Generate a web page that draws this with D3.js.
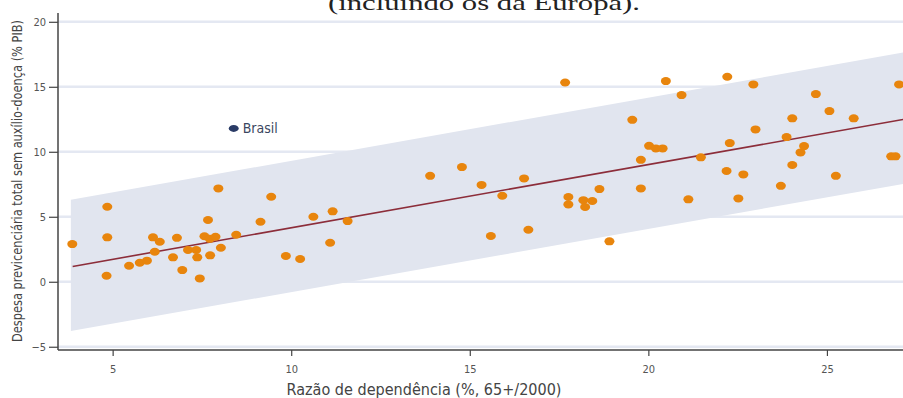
<!DOCTYPE html>
<html lang="pt">
<head>
<meta charset="utf-8">
<script src="https://cdn.jsdelivr.net/npm/d3@7"></script>
<style>
  html, body { margin: 0; padding: 0; background: #fff; }
  svg { display: block; }
  .cond { font-family: 'Liberation Sans Narrow', 'DejaVu Sans Condensed', 'Roboto', sans-serif; font-stretch: condensed; }
</style>
</head>
<body>
<svg id="chart" width="903" height="398"></svg>
<script>
// Razão de dependência (x) e despesa previdenciária (y) por país
const xValues = [3.87, 4.85, 4.85, 4.83, 5.46, 5.76, 5.96, 6.13, 6.32, 6.18,
  6.69, 6.80, 6.95, 7.11, 7.34, 7.37, 7.44, 7.57, 7.67, 7.72,
  7.88, 7.73, 8.03, 7.96, 8.46, 9.14, 9.44, 9.85, 10.25, 10.62,
  11.16, 11.09, 11.58, 13.89, 14.78, 15.33, 15.91, 16.52, 15.59, 16.64,
  17.67, 17.76, 17.76, 18.18, 18.23, 18.43, 18.63, 18.91, 19.55, 19.79,
  19.79, 20.02, 20.21, 20.40, 20.49, 20.93, 21.12, 21.47, 22.21, 22.94,
  22.28, 22.19, 22.66, 22.52, 23.00, 23.71, 23.87, 24.03, 24.03, 24.26,
  24.36, 24.69, 25.07, 25.25, 25.75, 26.80, 26.92, 27.02];
const yValues = [2.90, 5.77, 3.42, 0.46, 1.23, 1.46, 1.62, 3.42, 3.08, 2.31,
  1.88, 3.38, 0.90, 2.44, 2.44, 1.88, 0.26, 3.50, 4.75, 3.30,
  3.46, 2.03, 2.62, 7.18, 3.62, 4.62, 6.54, 1.98, 1.75, 5.00,
  5.42, 3.00, 4.67, 8.15, 8.82, 7.45, 6.62, 7.95, 3.52, 4.00,
  15.33, 6.52, 5.95, 6.28, 5.75, 6.21, 7.13, 3.11, 12.46, 9.38,
  7.18, 10.46, 10.26, 10.26, 15.44, 14.36, 6.34, 9.57, 15.77, 15.18,
  10.67, 8.52, 8.26, 6.41, 11.72, 7.38, 11.13, 12.57, 8.98, 9.95,
  10.44, 14.44, 13.13, 8.15, 12.57, 9.65, 9.65, 15.18];

// Ponto destacado
const highlightLabel = ["Brasil"];
const highlightX = [8.39];
const highlightY = [11.8];

// Reta ajustada e faixa em torno dela
const fitIntercept = -0.705;
const fitSlope = 0.486;
const bandUpper = 5.15;
const bandLower = -4.95;
const bandStart = 3.83;
const lineStart = 3.88;

// Eixos
const xDomain = [3.47, 27.13];
const yDomain = [-5.25, 20.6];
const xTicks = [5, 10, 15, 20, 25];
const yTicks = [-5, 0, 5, 10, 15, 20];

const titleText = "(incluindo os da Europa).";
const xTitle = "Razão de dependência (%, 65+/2000)";
const yTitle = "Despesa previcenciária total sem auxílio-doença (% PIB)";

const svg = d3.select("#chart");
const plotLeft = 58, plotRight = 903, plotTop = 14, plotBottom = 350;

const x = d3.scaleLinear().domain(xDomain).range([plotLeft, plotRight]);
const y = d3.scaleLinear().domain(yDomain).range([plotBottom, plotTop]);

svg.append("defs").append("clipPath").attr("id", "plot")
  .append("rect").attr("x", plotLeft).attr("y", plotTop - 10)
  .attr("width", plotRight - plotLeft).attr("height", plotBottom - plotTop + 10);

// Linhas de grade
svg.append("g").selectAll("line").data(yTicks).join("line")
  .attr("x1", plotLeft).attr("x2", plotRight)
  .attr("y1", d => y(d)).attr("y2", d => y(d))
  .attr("stroke", "#e4e8f2").attr("stroke-width", 2.5);

// Faixa
const xEnd = xDomain[1];
const bandPts = [
  [bandStart, fitIntercept + fitSlope * bandStart + bandUpper],
  [xEnd, fitIntercept + fitSlope * xEnd + bandUpper],
  [xEnd, fitIntercept + fitSlope * xEnd + bandLower],
  [bandStart, fitIntercept + fitSlope * bandStart + bandLower]
];
svg.append("path")
  .attr("clip-path", "url(#plot)")
  .attr("d", d3.line().x(d => x(d[0])).y(d => y(d[1]))(bandPts) + "Z")
  .attr("fill", "#e1e5ef");

// Reta ajustada
const fitPts = [lineStart, xEnd].map(v => [v, fitIntercept + fitSlope * v]);
svg.append("path")
  .attr("clip-path", "url(#plot)")
  .attr("d", d3.line().x(d => x(d[0])).y(d => y(d[1]))(fitPts))
  .attr("fill", "none").attr("stroke", "#8c2d3a").attr("stroke-width", 1.6);

// Países
svg.append("g").selectAll("ellipse").data(d3.range(xValues.length)).join("ellipse")
  .attr("cx", i => x(xValues[i])).attr("cy", i => y(yValues[i]))
  .attr("rx", 5).attr("ry", 4)
  .attr("fill", "#e8850d");

// Brasil
const hl = svg.append("g");
hl.selectAll("ellipse").data(highlightX).join("ellipse")
  .attr("cx", (d) => x(d)).attr("cy", (d, i) => y(highlightY[i]))
  .attr("rx", 5).attr("ry", 3.5).attr("fill", "#2a3b66");
hl.selectAll("text").data(highlightLabel).join("text")
  .attr("class", "cond")
  .attr("x", (d, i) => x(highlightX[i]) + 9)
  .attr("y", (d, i) => y(highlightY[i]) + 5)
  .attr("font-size", 14).attr("fill", "#3a4660")
  .text(d => d);

// Eixo Y
const yAxis = svg.append("g").attr("transform", `translate(${plotLeft},0)`)
  .call(d3.axisLeft(y).tickValues(yTicks).tickSize(9).tickPadding(3).tickSizeOuter(0));
yAxis.select(".domain").attr("stroke", "#444").attr("stroke-width", 1.5)
  .attr("d", `M0,${plotTop - 1}V${plotBottom}`);
yAxis.selectAll(".tick line").attr("stroke", "#444").attr("stroke-width", 1.2);
yAxis.selectAll(".tick text").attr("class", "cond").attr("font-size", 11).attr("fill", "#555");

// Eixo X
const xAxis = svg.append("g").attr("transform", `translate(0,${plotBottom})`)
  .call(d3.axisBottom(x).tickValues(xTicks).tickSize(6).tickPadding(9).tickSizeOuter(0));
xAxis.select(".domain").attr("stroke", "#444").attr("stroke-width", 1.5)
  .attr("d", `M${plotLeft},0H${plotRight}`);
xAxis.selectAll(".tick line").attr("stroke", "#444").attr("stroke-width", 1.2);
xAxis.selectAll(".tick text").attr("class", "cond").attr("font-size", 11).attr("fill", "#555");

// Títulos
svg.append("text").attr("class", "cond")
  .attr("x", 424).attr("y", 395).attr("text-anchor", "middle")
  .attr("font-size", 15).attr("fill", "#444")
  .attr("textLength", 275).attr("lengthAdjust", "spacingAndGlyphs")
  .text(xTitle);

svg.append("text").attr("class", "cond")
  .attr("transform", "translate(22,181) rotate(-90)")
  .attr("text-anchor", "middle")
  .attr("font-size", 14).attr("fill", "#444")
  .attr("textLength", 322).attr("lengthAdjust", "spacingAndGlyphs")
  .text(yTitle);

svg.append("text")
  .attr("x", 484).attr("y", 10).attr("text-anchor", "middle")
  .attr("font-family", "'Liberation Serif', 'DejaVu Serif', serif")
  .attr("font-size", 22).attr("fill", "#222")
  .attr("textLength", 312).attr("lengthAdjust", "spacingAndGlyphs")
  .text(titleText);
</script>
</body>
</html>
